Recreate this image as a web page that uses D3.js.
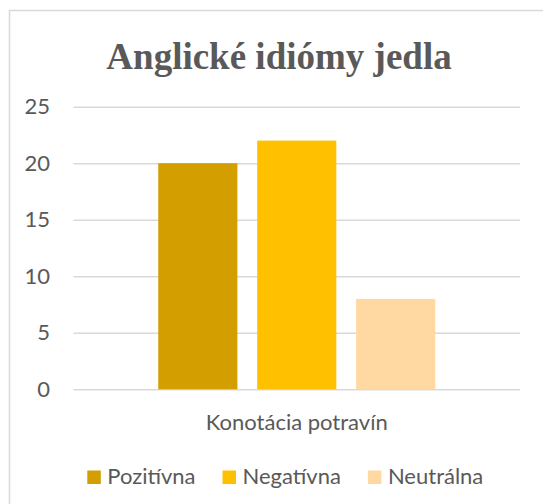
<!DOCTYPE html>
<html>
<head>
<meta charset="utf-8">
<script src="https://cdn.jsdelivr.net/npm/d3@7"></script>
<style>
  html, body { margin: 0; padding: 0; background: #fff; }
  svg { display: block; }
</style>
</head>
<body>
<div id="chart"></div>
<script>
const categories = ['Konotácia potravín']
const series = ['Pozitívna', 'Negatívna', 'Neutrálna']
const values = [20, 22, 8]
const yTicks = [0, 5, 10, 15, 20, 25]
const seriesColors = ['#D29E00', '#FFC000', '#FFD9A1']

const width = 543,
	height = 504,
	margin = { top: 106.7, right: 23, bottom: 114.7, left: 73.5 },
	innerW = width - margin.left - margin.right,
	innerH = height - margin.top - margin.bottom,
	textColor = '#595959',
	gridColor = '#d9d9d9',
	sans = 'Lato, "Open Sans", sans-serif',
	sansSize = '22px'

const svg = d3.select('#chart').append('svg')
	.attr('width', width)
	.attr('height', height)

// chart area border (clipped at right/bottom like the source)
svg.append('rect')
	.attr('x', 9.5)
	.attr('y', 10.5)
	.attr('width', 600)
	.attr('height', 600)
	.attr('fill', 'none')
	.attr('stroke', gridColor)
	.attr('stroke-width', 1.5)

// Title
svg.append('text')
	.text('Anglické idiómy jedla')
	.attr('x', 279)
	.attr('y', 69)
	.attr('text-anchor', 'middle')
	.attr('fill', textColor)
	.attr('font-family', '"Liberation Serif", "Times New Roman", serif')
	.attr('font-weight', 'bold')
	.attr('font-size', '37px')

const g = svg.append('g')
	.attr('transform', 'translate(' + margin.left + ',' + margin.top + ')')

const y = d3.scaleLinear()
	.domain([0, 25])
	.range([innerH, 0])

const x0 = d3.scaleBand()
	.domain(categories)
	.range([0, innerW])
	.paddingInner(0)
	.paddingOuter(0.306)

const x1 = d3.scaleBand()
	.domain(series)
	.range([0, x0.bandwidth()])
	.paddingInner(0.2)
	.paddingOuter(0)

// Gridlines
g.append('g')
	.call(d3.axisLeft(y).tickValues(yTicks).tickSize(-innerW).tickFormat(''))
	.call(ax => ax.select('.domain').remove())
	.call(ax => ax.selectAll('line').attr('stroke', gridColor).attr('stroke-width', 1.5))

// Y labels
g.append('g')
	.selectAll('text')
	.data(yTicks)
	.enter().append('text')
		.text(d => d)
		.attr('x', 50 - margin.left)
		.attr('y', d => y(d))
		.attr('dy', '0.35em')
		.attr('text-anchor', 'end')
		.attr('fill', textColor)
		.attr('font-family', sans)
		.attr('font-size', sansSize)

// Bars
const groups = g.selectAll('.cat')
		.data(categories)
	.enter().append('g')
		.attr('class', 'cat')
		.attr('transform', d => 'translate(' + x0(d) + ',0)')

groups.selectAll('rect')
		.data(() => series.map((s, i) => ({ s: s, v: values[i], c: seriesColors[i] })))
	.enter().append('rect')
		.attr('x', d => x1(d.s))
		.attr('y', d => y(d.v))
		.attr('width', x1.bandwidth())
		.attr('height', d => innerH - y(d.v))
		.attr('fill', d => d.c)

// Category label
g.selectAll('.catlabel')
		.data(categories)
	.enter().append('text')
		.attr('class', 'catlabel')
		.text(d => d)
		.attr('x', d => x0(d) + x0.bandwidth() / 2)
		.attr('y', innerH + 40.5)
		.attr('text-anchor', 'middle')
		.attr('fill', textColor)
		.attr('font-family', sans)
		.attr('font-size', sansSize)

// Legend
const legend = svg.append('g')
	.attr('transform', 'translate(87.3,484)')
let lx = 0
series.forEach((s, i) => {
	const item = legend.append('g').attr('transform', 'translate(' + lx + ',0)')
	item.append('rect')
		.attr('x', 0)
		.attr('y', -13.5)
		.attr('width', 13.5)
		.attr('height', 13.5)
		.attr('fill', seriesColors[i])
	const t = item.append('text')
		.text(s)
		.attr('x', 20)
		.attr('y', 0)
		.attr('fill', textColor)
		.attr('font-family', sans)
		.attr('font-size', sansSize)
	lx += 20 + t.node().getComputedTextLength() + 27
})
</script>
</body>
</html>
